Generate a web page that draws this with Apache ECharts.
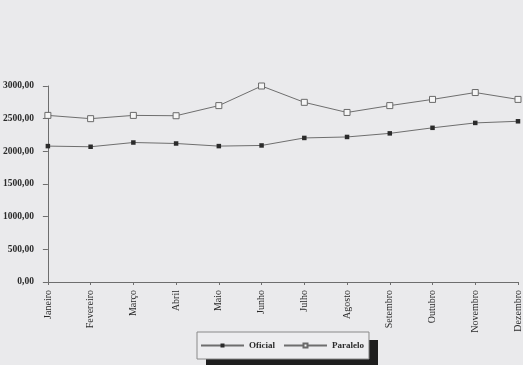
<!DOCTYPE html>
<html>
<head>
<meta charset="utf-8">
<style>
  html, body { margin: 0; padding: 0; background: #eaeaec; }
  #chart { width: 523px; height: 365px; }
</style>
<script src="https://cdn.jsdelivr.net/npm/echarts@6/dist/echarts.min.js"></script>
</head>
<body>
<div id="chart"></div>
<script>
// Monthly exchange-rate series: official vs. parallel market
const months = ['Janeiro', 'Fevereiro', 'Março', 'Abril', 'Maio', 'Junho',
                'Julho', 'Agosto', 'Setembro', 'Outubro', 'Novembro', 'Dezembro'];
const oficial  = [2080, 2070, 2135, 2120, 2080, 2090, 2205, 2220, 2275, 2360, 2435, 2460];
const paralelo = [2550, 2500, 2550, 2545, 2700, 3000, 2750, 2595, 2700, 2795, 2900, 2795];
const seriesNames = ['Oficial', 'Paralelo'];

const serif = '"Liberation Serif", "DejaVu Serif", serif';
const ink = '#2a2a2a';
const lineGrey = '#6e6e6e';

const chart = echarts.init(document.getElementById('chart'), null, { renderer: 'canvas' });

chart.setOption({
  backgroundColor: '#eaeaec',
  animation: false,
  grid: { left: 46, right: 4, top: 86, bottom: 83, containLabel: false },
  // dark drop shadow sitting behind the legend box
  graphic: [{
    type: 'rect',
    z: 0,
    shape: { x: 206, y: 340, width: 172, height: 30 },
    style: { fill: '#1e1e1e' }
  }],
  xAxis: {
    type: 'category',
    data: months,
    boundaryGap: false,
    axisLine: { lineStyle: { color: lineGrey, width: 1 } },
    axisTick: { show: true, alignWithLabel: true, length: 3, lineStyle: { color: lineGrey } },
    axisLabel: {
      rotate: 90,
      interval: 0,
      margin: 8,
      fontFamily: serif,
      fontSize: 10,
      color: ink
    },
    splitLine: { show: false }
  },
  yAxis: {
    type: 'value',
    min: 0,
    max: 3000,
    interval: 500,
    axisLine: { show: true, lineStyle: { color: lineGrey, width: 1 } },
    axisTick: { show: true, length: 5, lineStyle: { color: lineGrey } },
    axisLabel: {
      margin: 14,
      fontFamily: serif,
      fontSize: 9.5,
      fontWeight: 'bold',
      color: ink,
      formatter: v => v.toFixed(2).replace('.', ',')
    },
    splitLine: { show: false }
  },
  legend: {
    left: 197,
    top: 332,
    z: 10,
    padding: [9, 5, 9, 3],
    itemGap: 8,
    itemWidth: 43,
    itemHeight: 5,
    backgroundColor: '#ededef',
    borderColor: '#8a8a8a',
    borderWidth: 1,
    textStyle: { fontFamily: serif, fontSize: 9, fontWeight: 'bold', color: ink },
    data: seriesNames
  },
  series: [
    {
      name: seriesNames[0],
      type: 'line',
      data: oficial,
      symbol: 'rect',
      symbolSize: 4.5,
      itemStyle: { color: '#2b2b2b', borderColor: '#2b2b2b', borderWidth: 0 },
      lineStyle: { color: lineGrey, width: 1 }
    },
    {
      name: seriesNames[1],
      type: 'line',
      data: paralelo,
      symbol: 'rect',
      symbolSize: 6,
      itemStyle: { color: '#f6f6f6', borderColor: '#6a6a6a', borderWidth: 1 },
      lineStyle: { color: lineGrey, width: 1 }
    }
  ]
});
</script>
</body>
</html>
